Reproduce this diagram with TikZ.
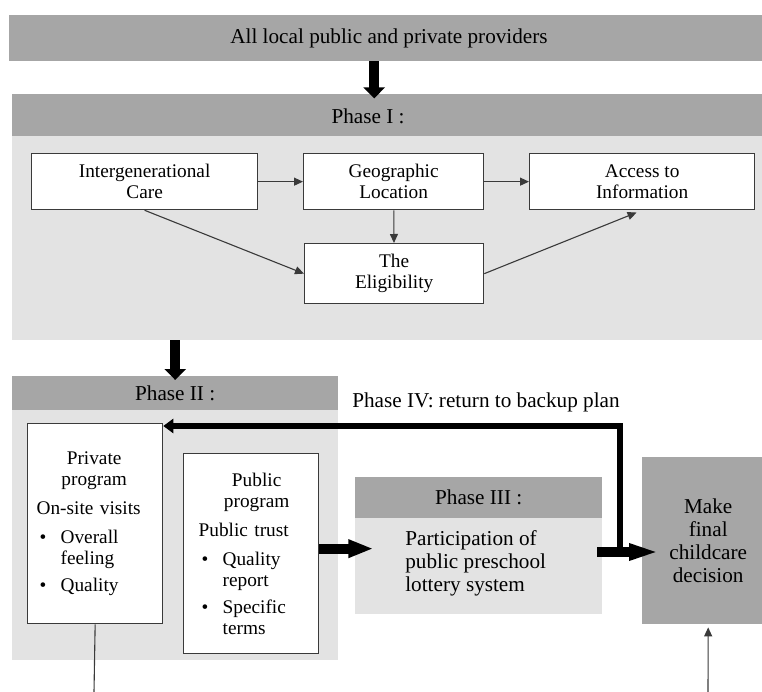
\documentclass[tikz,border=0pt]{standalone}
\usepackage{fontspec}
\setmainfont{Liberation Serif}
\usetikzlibrary{arrows.meta}
\definecolor{bargrey}{HTML}{A6A6A6}
\definecolor{panelgrey}{HTML}{E3E3E3}
\definecolor{edgegrey}{HTML}{3A3A3A}
\newcommand{\boxfont}{\fontsize{19.3}{21}\selectfont}
\newcommand{\labelfont}{\fontsize{21.2}{23}\selectfont}
\newcommand{\bulletline}[1]{\par\vspace{8pt}\noindent\makebox[24pt][l]{\hspace{3pt}\textbullet}\parbox[t]{90pt}{\raggedright #1}}

\begin{document}
\begin{tikzpicture}[x=1pt, y=-1pt, line join=miter, >=Triangle,
  bar/.style={fill=bargrey, inner sep=0pt, anchor=north west},
  panel/.style={fill=panelgrey, inner sep=0pt, anchor=north west},
  whitebox/.style={draw=edgegrey, line width=1.3pt, fill=white, anchor=north west,
    inner sep=0pt, font=\boxfont, align=center},
  thinarrow/.style={draw=edgegrey, line width=1.1pt, -{Triangle[length=9pt,width=8pt]}},
  fatarrow/.style={line width=10pt, -{Triangle[length=11pt,width=21pt]}},
  pubarrow/.style={line width=10pt, -{Triangle[length=25pt,width=17pt]}},
  decarrow/.style={line width=9.5pt, -{Triangle[length=31pt,width=15pt]}},
  looparrow/.style={line width=6pt, -{Triangle[length=10pt,width=14pt]}}]
  \useasboundingbox (0,0) rectangle (762,692);

  \node[bar, minimum width=753, minimum height=46] (providers) at (9,15) {};
  \node[font=\labelfont] (providerslabel) at (389,38) {All local public and private providers};
  \node[bar, minimum width=750, minimum height=42] (phaseIhead) at (12,94) {};
  \node[font=\labelfont] (phaseIlabel) at (368,116) {Phase I :};
  \node[panel, minimum width=750, minimum height=204] (phaseIbody) at (12,136) {};
  \draw[fatarrow] ([xshift=-11.5pt]providers.south) -- ++(0,37);

  \node[whitebox, minimum width=226, minimum height=56] (intergen) at (31,153) {Intergenerational\\Care};
  \node[whitebox, minimum width=180, minimum height=56] (geo) at (303,153) {Geographic\\Location};
  \node[whitebox, minimum width=225, minimum height=56] (access) at (529,153) {Access to\\Information};
  \node[whitebox, minimum width=179, minimum height=60] (elig) at (304,243) {The\\Eligibility};
  \draw[thinarrow] (intergen) -- (geo);
  \draw[thinarrow] (geo) -- (access);
  \draw[thinarrow] (geo) -- (elig);
  \draw[thinarrow] (intergen.south) -- (elig.west);
  \draw[thinarrow, shorten >=6pt] (elig.east) -- (access.south);

  \node[bar, minimum width=326, minimum height=34, font=\labelfont] (phaseIIhead) at (12,376) {Phase II :};
  \node[panel, minimum width=326, minimum height=250] (phaseIIbody) at (12,410) {};
  \draw[fatarrow] (phaseIbody.south -| phaseIIhead.north) -- ([yshift=-4pt]phaseIIhead.north);

  \node[whitebox, minimum width=135, minimum height=200] (private) at (27,423) {};
  \node[text width=115, inner sep=0pt, font=\boxfont, align=left] (privatetext) at ([xshift=-1pt]private.center)
    {\centering Private\\program\par\vspace{8pt}\raggedright On-site visits\bulletline{Overall\\feeling}\bulletline{Quality}};
  \node[whitebox, minimum width=135, minimum height=200] (public) at (183,453) {};
  \node[text width=116, inner sep=0pt, font=\boxfont, align=left] (publictext) at ([xshift=5.5pt]public.center)
    {\centering Public\\program\par\vspace{8pt}\raggedright Public trust\bulletline{Quality\\report}\bulletline{Specific\\terms}};

  \node[bar, minimum width=247, minimum height=41, font=\labelfont] (phaseIIIhead) at (355,477) {Phase III :};
  \node[panel, minimum width=247, minimum height=96] (phaseIIIbody) at (355,518) {};
  \node[font=\labelfont, align=left] (lottery) at ([xshift=-3pt,yshift=3pt]phaseIIIbody.center)
    {Participation of\\public preschool\\lottery system};
  \draw[pubarrow] ([yshift=5pt]public.east) -- ++(54,0);

  \node[bar, minimum width=132, minimum height=167, font=\labelfont, align=center] (decision) at (642,457)
    {Make\\final\\childcare\\decision};
  \coordinate (fork) at (620,552);
  \draw[decarrow, shorten >=-18pt] ([xshift=-5pt]fork -| phaseIIIbody.east) -- (fork -| decision.west);
  \draw[looparrow] (fork) |- ([yshift=-3pt]private.north east);
  \node[font=\labelfont] (phaseIVlabel) at (486,402) {Phase IV: return to backup plan};

  \coordinate (privatefoot) at (94,692);
  \draw[edgegrey, line width=1.1pt] (private.south) -- (privatefoot);
  \coordinate (decisionfoot) at (708,692);
  \draw[thinarrow, shorten >=3pt] (decisionfoot) -- (decision.south);
\end{tikzpicture}
\end{document}
